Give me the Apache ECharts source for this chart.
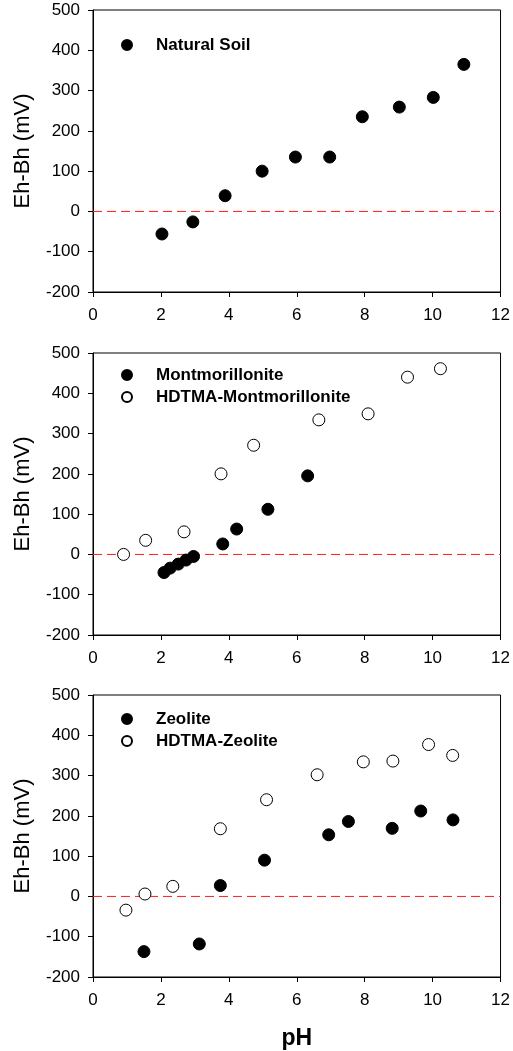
<!DOCTYPE html>
<html>
<head>
<meta charset="utf-8">
<script src="https://cdn.jsdelivr.net/npm/echarts@6/dist/echarts.min.js"></script>
<style>
  html, body { margin: 0; padding: 0; background: #fff; }
  #chart { width: 513px; height: 1051px; }
</style>
</head>
<body>
<div id="chart"></div>
<script>
// panel 1 - natural soil
const soilPH = [2.03, 2.94, 3.89, 4.98, 5.96, 6.97, 7.93, 9.02, 10.02, 10.92];
const soilEh = [-56, -26, 39, 100, 135, 135, 235, 259, 283, 365];

// panel 2 - montmorillonite
const montPH = [2.09, 2.27, 2.51, 2.74, 2.96, 3.82, 4.23, 5.15, 6.32];
const montEh = [-45, -34, -24, -14, -5, 26, 63, 112, 195];
const hdMontPH = [0.9, 1.55, 2.68, 3.77, 4.73, 6.65, 8.1, 9.26, 10.23];
const hdMontEh = [0, 35, 56, 200, 271, 334, 349, 440, 461];

// panel 3 - zeolite
const zeoPH = [1.5, 3.13, 3.75, 5.05, 6.94, 7.52, 8.81, 9.65, 10.6];
const zeoEh = [-137, -118, 27, 90, 153, 186, 169, 212, 190];
const hdZeoPH = [0.97, 1.53, 2.35, 3.75, 5.11, 6.6, 7.96, 8.83, 9.88, 10.59];
const hdZeoEh = [-34, 6, 25, 168, 240, 302, 334, 336, 377, 350];

// red dashed reference line at Eh-Bh = 0
const zeroPH = [0, 12];
const zeroEh = [0, 0];

const FONT = 'Liberation Sans, Arial, sans-serif';
const pair = (xs, ys) => xs.map((x, i) => [x, ys[i]]);

const panelTops = [10, 353, 695];
const plotH = 282;

const grids = panelTops.map((t) => ({
  left: 93, top: t, width: 409, height: plotH,
  show: true, borderColor: '#000', borderWidth: 1,
}));

const xAxes = panelTops.map((t, i) => ({
  type: 'value', gridIndex: i, min: 0, max: 12, interval: 2,
  name: i === 2 ? 'pH' : '',
  nameLocation: 'middle', nameGap: 50,
  nameTextStyle: { fontFamily: FONT, fontSize: 23, fontWeight: 'bold', color: '#000' },
  axisLine: { onZero: false, lineStyle: { color: '#000', width: 1 } },
  axisTick: { length: 5, lineStyle: { color: '#000' } },
  axisLabel: { margin: 15, fontFamily: FONT, fontSize: 17, color: '#000' },
  splitLine: { show: false },
}));

const yAxes = panelTops.map((t, i) => ({
  type: 'value', gridIndex: i, min: -200, max: 500, interval: 100,
  name: 'Eh-Bh (mV)',
  nameLocation: 'middle', nameGap: 59,
  nameTextStyle: { fontFamily: FONT, fontSize: 22, color: '#000' },
  axisLine: { onZero: false, lineStyle: { color: '#000', width: 1 } },
  axisTick: { length: 5, lineStyle: { color: '#000' } },
  axisLabel: { margin: 13, fontFamily: FONT, fontSize: 17, color: '#000' },
  splitLine: { show: false },
}));

const filled = { color: '#000', borderColor: '#000', borderWidth: 1, opacity: 1 };
const open = { color: '#fff', borderColor: '#000', borderWidth: 1, opacity: 1 };

function scatter(name, idx, data, style) {
  return {
    name, type: 'scatter', xAxisIndex: idx, yAxisIndex: idx, z: 3,
    data, symbol: 'circle', symbolSize: 12, itemStyle: style,
  };
}

function zeroLine(idx) {
  return {
    type: 'line', xAxisIndex: idx, yAxisIndex: idx, z: 2, silent: true,
    data: pair(zeroPH, zeroEh), symbol: 'none',
    lineStyle: { color: '#ff1a1a', type: [9, 5], width: 1 },
  };
}

const legendBase = {
  left: 121, orient: 'vertical', icon: 'circle', padding: 0,
  itemWidth: 10, itemHeight: 10, itemGap: 2,
  itemStyle: { opacity: 1 },
  textStyle: {
    fontFamily: FONT, fontSize: 17, fontWeight: 'bold', color: '#000',
    lineHeight: 20, padding: [0, 0, 0, 19],
  },
};

const chart = echarts.init(document.getElementById('chart'));
chart.setOption({
  backgroundColor: '#fff',
  animation: false,
  grid: grids,
  xAxis: xAxes,
  yAxis: yAxes,
  legend: [
    { ...legendBase, top: 35, data: ['Natural Soil'] },
    { ...legendBase, top: 365, data: ['Montmorillonite', 'HDTMA-Montmorillonite'] },
    { ...legendBase, top: 709, data: ['Zeolite', 'HDTMA-Zeolite'] },
  ],
  series: [
    zeroLine(0), zeroLine(1), zeroLine(2),
    scatter('Natural Soil', 0, pair(soilPH, soilEh), filled),
    scatter('Montmorillonite', 1, pair(montPH, montEh), filled),
    scatter('HDTMA-Montmorillonite', 1, pair(hdMontPH, hdMontEh), open),
    scatter('Zeolite', 2, pair(zeoPH, zeoEh), filled),
    scatter('HDTMA-Zeolite', 2, pair(hdZeoPH, hdZeoEh), open),
  ],
});
</script>
</body>
</html>
